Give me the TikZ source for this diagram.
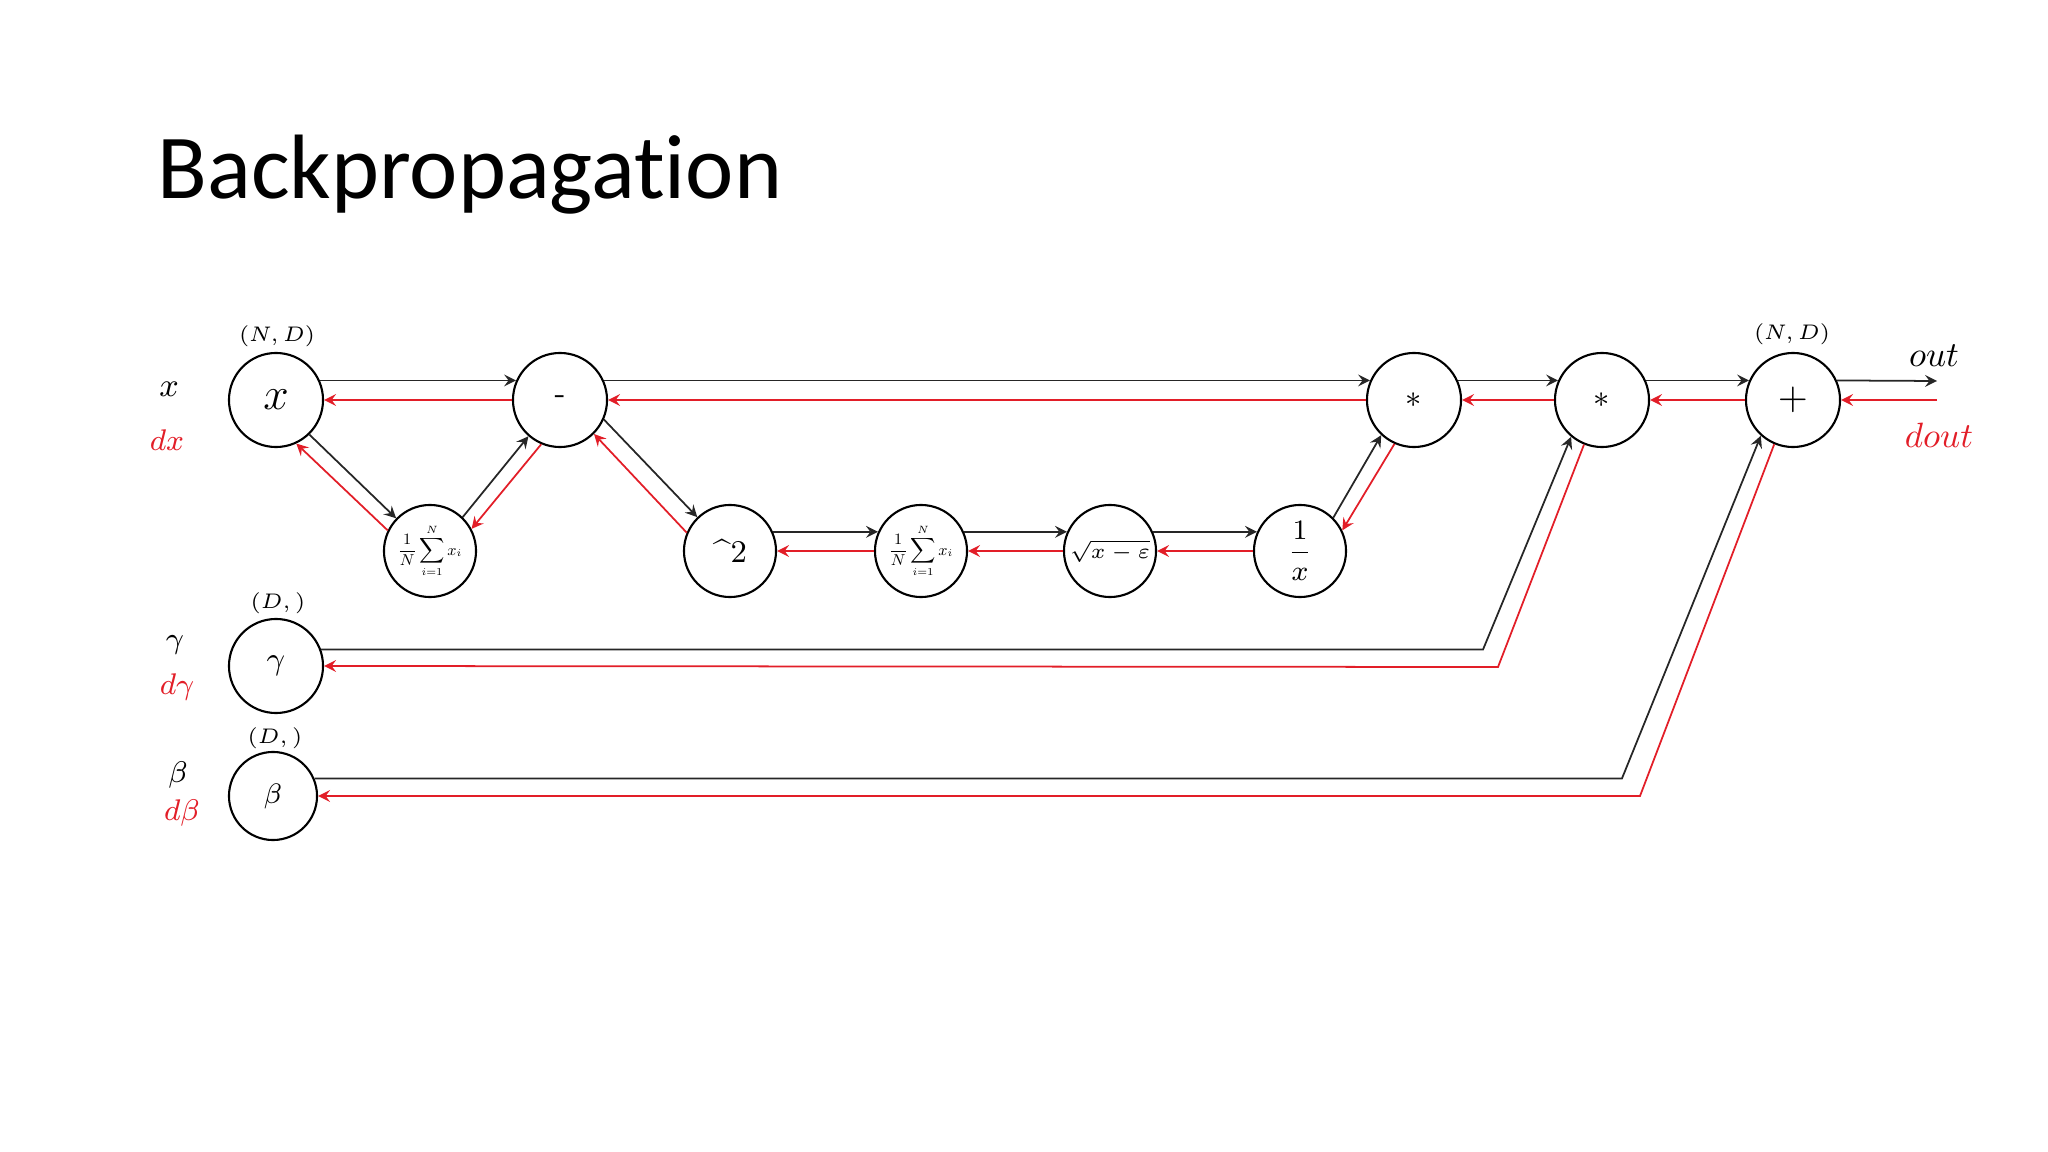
\RequirePackage{fix-cm}
\documentclass[tikz,border=0pt]{standalone}
\usepackage[no-math]{fontspec}
\newfontfamily\titlefont[Ligatures=NoCommon]{Carlito}
\usetikzlibrary{arrows}
\definecolor{gradred}{RGB}{226,30,40}
\newcommand{\meanop}{\scalebox{0.5}{$\displaystyle\frac{1}{N}\sum_{i=1}^{N}x_i$}}
\tikzstyle{op} = [circle, draw=black, line width=0.6pt, minimum size=0.94cm, inner sep=0pt, font=\fontsize{9pt}{9pt}\selectfont]
\tikzstyle{blank} = [inner sep=0pt]
\tikzstyle{lbl} = [inner sep=0pt, font=\fontsize{8.5pt}{9pt}\selectfont]
\tikzstyle{shp} = [inner sep=0pt, font=\fontsize{6pt}{6pt}\selectfont]
\tikzstyle{fwd} = [->,>=stealth, line width=0.5pt, draw=black!85]
\tikzstyle{bwd} = [->,>=stealth, line width=0.5pt, draw=gradred]

\begin{document}
\begin{tikzpicture}[x=0.01cm, y=-0.01cm]
        \useasboundingbox (0,0) rectangle (2048,1152);
        \node[blank, anchor=base west, font=\titlefont\fontsize{26pt}{30pt}\selectfont] (title) at (157,199) {Backpropagation};

        % forward graph
        \node[op, font=\fontsize{13pt}{13pt}\selectfont] (x) at (276,400) {$x$};
        \node[op] (minus) at (560,400) {-};
        \node[op, minimum size=0.92cm] (mean1) at (430,551) {\meanop};
        \node[op, minimum size=0.92cm] (sq) at (730,551) {\textasciicircum 2};
        \node[op, minimum size=0.92cm] (mean2) at (921,551) {\meanop};
        \node[op, minimum size=0.92cm, font=\fontsize{6pt}{6pt}\selectfont] (sqrt) at (1110,551) {$\sqrt{x-\varepsilon}$};
        \node[op, minimum size=0.92cm, font=\fontsize{8pt}{8pt}\selectfont] (inv) at (1300,551) {$\displaystyle\frac{1}{x}$};
        \node[op] (mul1) at (1414,400) {$\ast$};
        \node[op] (mul2) at (1602,400) {$\ast$};
        \node[op, font=\fontsize{11pt}{11pt}\selectfont] (add) at (1793,400) {$+$};
        \node[op] (gam) at (276,666) {$\gamma$};
        \node[op, minimum size=0.88cm, font=\fontsize{8pt}{8pt}\selectfont] (bet) at (273,796) {$\beta$};

        % labels
        \node[lbl, font=\fontsize{9.5pt}{10pt}\selectfont] (xl) at (169,389) {$x$};
        \node[lbl, text=gradred] (dxl) at (167,440) {$dx$};
        \node[lbl] (gl) at (175,645) {$\gamma$};
        \node[lbl, text=gradred] (dgl) at (177,687) {$d\gamma$};
        \node[lbl] (bl) at (178,775) {$\beta$};
        \node[lbl, text=gradred] (dbl) at (182,813) {$d\beta$};
        \node[shp] (xshape) at (277,336) {$(N,D)$};
        \node[shp] (addshape) at (1792,334) {$(N,D)$};
        \node[shp] (gshape) at (278,603) {$(D,)$};
        \node[shp] (bshape) at (275,738) {$(D,)$};
        \node[lbl, font=\fontsize{10pt}{10pt}\selectfont] (outl) at (1934,356) {$out$};
        \node[lbl, font=\fontsize{10pt}{10pt}\selectfont, text=gradred] (doutl) at (1939,435) {$dout$};

        \coordinate (outend) at (1937,381);
        \coordinate (doutstart) at (1937,400);
        \coordinate (gcornerf) at (1483,649);
        \coordinate (gcornerb) at (1498,667);
        \coordinate (bcornerf) at (1622,779);
        \coordinate (bcornerb) at (1640,796);

        % forward pass
        \draw[fwd] (x.24) -- (minus.156);
        \draw[fwd] (x.-46) -- (mean1.136);
        \draw[fwd] (mean1.46) -- (minus.-131);
        \draw[fwd] (minus.24) -- (mul1.156);
        \draw[fwd] (minus.-24) -- (sq.134);
        \draw[fwd] (sq.24) -- (mean2.156);
        \draw[fwd] (mean2.24) -- (sqrt.156);
        \draw[fwd] (sqrt.24) -- (inv.156);
        \draw[fwd] (inv.45) -- (mul1.-133);
        \draw[fwd] (mul1.24) -- (mul2.156);
        \draw[fwd] (mul2.24) -- (add.156);
        \draw[fwd] (add.24) -- (outend);
        \draw[fwd] (gam.20) -- (gam.20 -| gcornerf) -- (mul2.-130);
        \draw[fwd] (bet.23) -- (bet.23 -| bcornerf) -- (add.-132);

        % backward pass
        \draw[bwd] (doutstart) -- (add.east);
        \draw[bwd] (add.west) -- (mul2.east);
        \draw[bwd] (mul2.west) -- (mul1.east);
        \draw[bwd] (mul1.west) -- (minus.east);
        \draw[bwd] (minus.west) -- (x.east);
        \draw[bwd] (mul1.-114) -- (inv.26);
        \draw[bwd] (inv.west) -- (sqrt.east);
        \draw[bwd] (sqrt.west) -- (mean2.east);
        \draw[bwd] (mean2.west) -- (sq.east);
        \draw[bwd] (sq.157) -- (minus.-45);
        \draw[bwd] (minus.-113) -- (mean1.28);
        \draw[bwd] (mean1.154) -- (x.-65);
        \draw[bwd] (mul2.-112) -- (gcornerb) -- (gam.east);
        \draw[bwd] (add.-113) -- (bcornerb) -- (bet.east);
\end{tikzpicture}
\end{document}
